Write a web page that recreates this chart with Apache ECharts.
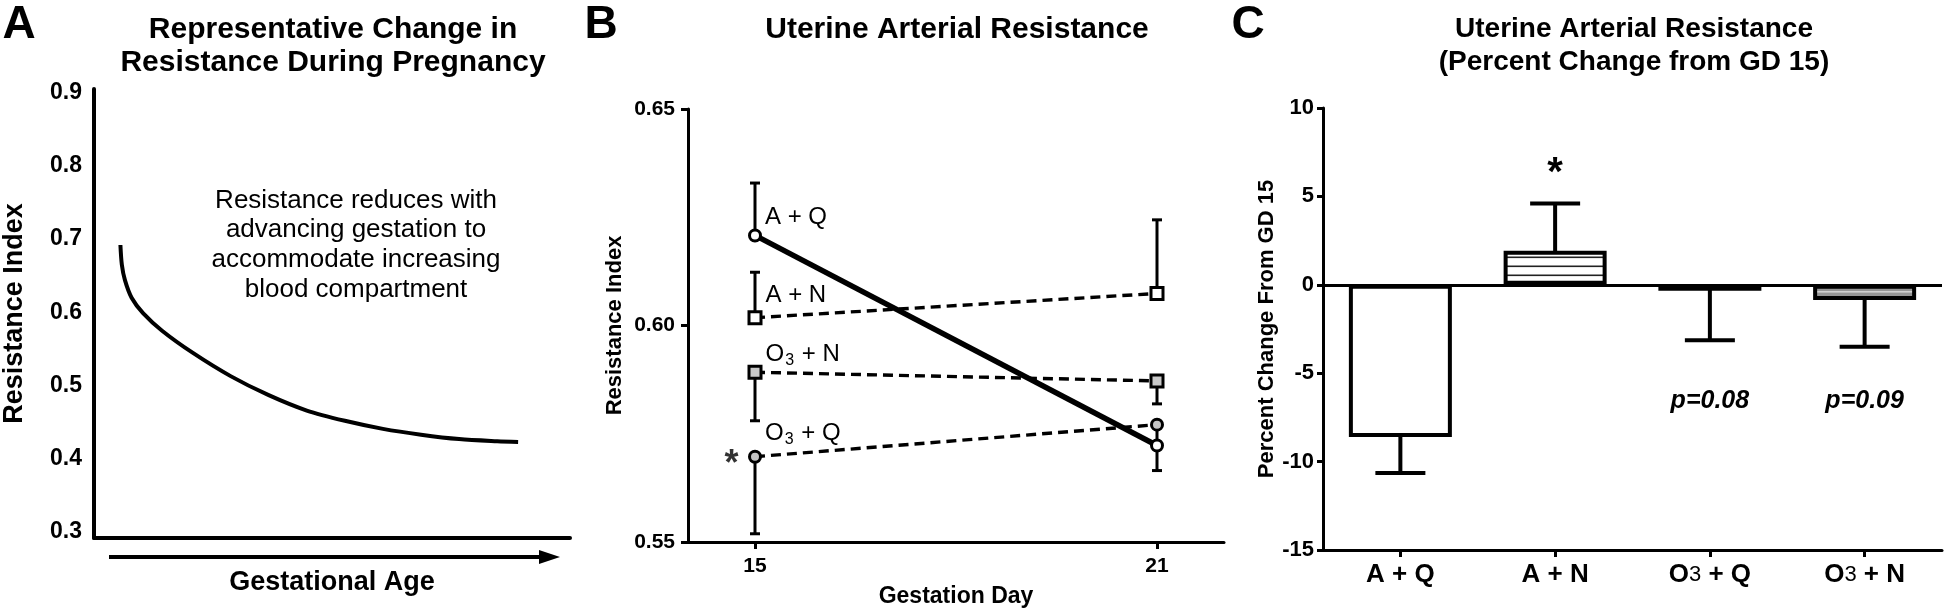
<!DOCTYPE html>
<html><head><meta charset="utf-8">
<script src="https://cdn.jsdelivr.net/npm/echarts@6/dist/echarts.min.js"></script>
<style>html,body{margin:0;padding:0;background:#fff}#c{width:1946px;height:613px}</style>
</head><body><div id="c"></div>
<script>
const FONT = 'Liberation Sans, Arial, Helvetica, sans-serif';

// ---------- Panel A : representative curve ----------
const curveX = [5.55, 5.85, 6.5, 7.9, 10.3, 14.3, 20.7, 28.7, 36.7, 44.7, 52.7, 60.7, 68.7, 76.7, 84.7, 89.1];
const curveY = [0.692, 0.665, 0.644, 0.620, 0.599, 0.575, 0.545, 0.513, 0.487, 0.466, 0.452, 0.441, 0.433, 0.427, 0.424, 0.423];
const yTicksA = [0.3, 0.4, 0.5, 0.6, 0.7, 0.8, 0.9];

// ---------- Panel B : resistance index by gestation day ----------
const daysB = [15, 21];
const groupsB = ['A + Q', 'A + N', 'O3 + N', 'O3 + Q'];
const meanAQ  = [0.6208, 0.5723];
const semAQ   = [0.0121, 0.0058];
const dirAQ   = [1, -1];
const meanAN  = [0.6018, 0.6074];
const semAN   = [0.0105, 0.0170];
const dirAN   = [1, 1];
const meanO3N = [0.5892, 0.5872];
const semO3N  = [0.0112, 0.0053];
const dirO3N  = [-1, -1];
const meanO3Q = [0.5697, 0.5771];
const semO3Q  = [0.0178, 0.0050];
const dirO3Q  = [-1, -1];
const xTicksB = [15, 21];

// ---------- Panel C : percent change from GD 15 ----------
const catsC  = ['A + Q', 'A + N', 'O3 + Q', 'O3 + N'];
const meanC  = [-8.61, 1.93, -0.33, -0.86];
const semC   = [2.04, 2.67, 2.81, 2.64];
const dirC   = [-1, 1, -1, -1];
const starC  = ['', '*', '', ''];
const pTextC = ['', '', 'p=0.08', 'p=0.09'];
const pTextY = -6.6;

function stripes(bg, line, period, y0, h) {
  const c = document.createElement('canvas');
  c.width = 8; c.height = period;
  const g = c.getContext('2d');
  g.fillStyle = bg; g.fillRect(0, 0, 8, period);
  g.fillStyle = line; g.fillRect(0, y0, 8, h);
  return { image: c, repeat: 'repeat' };
}
const fillsC = ['#ffffff', stripes('#ffffff', '#222222', 9, 4.5, 1.6), '#d4d4d4', stripes('#969696', '#d0d0d0', 9, 3, 1.6)];

const chart = echarts.init(document.getElementById('c'), null, { renderer: 'canvas', width: 1946, height: 613 });

const axisTxt = (size) => ({ color: '#000', fontFamily: FONT, fontWeight: 'bold', fontSize: size });

function bLabel(name, dy) {
  const txt = name.startsWith('O3') ? '{n|O}{s|3}{n|' + name.slice(2) + '}' : '{n|' + name + '}';
  return {
    show: true, position: 'right', distance: 3, offset: [0, dy], formatter: txt,
    rich: {
      n: { fontFamily: FONT, fontSize: 24, color: '#000', lineHeight: 28 },
      s: { fontFamily: FONT, fontSize: 16, color: '#000', verticalAlign: 'bottom', lineHeight: 16, padding: [0, 1, 0, 1] }
    }
  };
}

function lineSeriesB(name, means, symbol, size, fill, width, dashed, labelDy) {
  return {
    type: 'line', name: name, xAxisIndex: 1, yAxisIndex: 1, z: 3,
    data: daysB.map((d, i) => i === 0 ? { value: [d, means[i]], label: bLabel(name, labelDy) } : [d, means[i]]),
    symbol: symbol, symbolSize: size, showSymbol: true,
    itemStyle: { color: fill, borderColor: '#000', borderWidth: 3 },
    lineStyle: { color: '#000', width: width, type: dashed ? [10, 6] : 'solid' },
    emphasis: { disabled: true }, animation: false
  };
}

const errDataB = [];
[[meanAQ, semAQ, dirAQ], [meanAN, semAN, dirAN], [meanO3N, semO3N, dirO3N], [meanO3Q, semO3Q, dirO3Q]].forEach(g => {
  daysB.forEach((d, i) => errDataB.push([d, g[0][i], g[1][i], g[2][i]]));
});

const option = {
  animation: false,
  backgroundColor: '#fff',
  textStyle: { fontFamily: FONT },
  grid: [
    { left: 92, top: 89, width: 478, height: 449 },
    { left: 688, top: 109, width: 536, height: 434 },
    { left: 1323, top: 108, width: 619, height: 442 }
  ],
  xAxis: [
    { gridIndex: 0, type: 'value', min: 0, max: 100, axisLine: { show: true, onZero: false, lineStyle: { color: '#000', width: 4 } },
      axisTick: { show: false }, axisLabel: { show: false }, splitLine: { show: false },
      name: 'Gestational Age', nameLocation: 'middle', nameGap: 31, nameTextStyle: axisTxt(27) },
    { gridIndex: 1, type: 'value', min: 14, max: 22,
      axisLine: { show: true, onZero: false, lineStyle: { color: '#000', width: 3 } },
      axisTick: { show: true, length: 7, lineStyle: { color: '#000', width: 3 }, customValues: xTicksB },
      axisLabel: { customValues: xTicksB, margin: 14, ...axisTxt(21) }, splitLine: { show: false },
      name: 'Gestation Day', nameLocation: 'middle', nameGap: 43, nameTextStyle: axisTxt(23) },
    { gridIndex: 2, type: 'category', data: catsC, boundaryGap: true,
      axisLine: { show: true, onZero: false, lineStyle: { color: '#000', width: 3 } },
      axisTick: { show: true, alignWithLabel: true, length: 7, lineStyle: { color: '#000', width: 3 } },
      axisLabel: { margin: 12, formatter: v => v.startsWith('O3') ? '{b|O}{s|3}{b|' + v.slice(2) + '}' : '{b|' + v + '}',
        rich: { b: axisTxt(26), s: { color: '#000', fontFamily: FONT, fontSize: 22, fontWeight: 'normal' } } },
      splitLine: { show: false } }
  ],
  yAxis: [
    { gridIndex: 0, type: 'value', min: 0.292, max: 0.905,
      axisLine: { show: true, lineStyle: { color: '#000', width: 4 } },
      axisTick: { show: false, customValues: yTicksA },
      axisLabel: { customValues: yTicksA, margin: 12, formatter: v => v.toFixed(1), ...axisTxt(23) },
      splitLine: { show: false },
      name: 'Resistance Index', nameLocation: 'middle', nameGap: 66, nameTextStyle: axisTxt(27) },
    { gridIndex: 1, type: 'value', min: 0.55, max: 0.65, interval: 0.05,
      axisLine: { show: true, onZero: false, lineStyle: { color: '#000', width: 3 } },
      axisTick: { show: true, length: 7, lineStyle: { color: '#000', width: 3 } },
      axisLabel: { margin: 13, formatter: v => v.toFixed(2), ...axisTxt(21) }, splitLine: { show: false },
      name: 'Resistance Index', nameLocation: 'middle', nameGap: 62, nameTextStyle: axisTxt(22) },
    { gridIndex: 2, type: 'value', min: -15, max: 10, interval: 5,
      axisLine: { show: true, onZero: false, lineStyle: { color: '#000', width: 3 } },
      axisTick: { show: true, length: 6, lineStyle: { color: '#000', width: 3 } },
      axisLabel: { margin: 9, ...axisTxt(22) }, splitLine: { show: false },
      name: 'Percent Change From GD 15', nameLocation: 'middle', nameGap: 43, nameTextStyle: axisTxt(22) }
  ],
  series: [
    { type: 'line', xAxisIndex: 0, yAxisIndex: 0, data: curveX.map((x, i) => [x, curveY[i]]),
      smooth: 0.3, symbol: 'none', lineStyle: { color: '#000', width: 4 } },
    { type: 'custom', xAxisIndex: 1, yAxisIndex: 1, z: 1, data: errDataB,
      renderItem: (params, api) => {
        const x = api.value(0), m = api.value(1), s = api.value(2), d = api.value(3);
        const p0 = api.coord([x, m]), p1 = api.coord([x, m + d * s]);
        const st = { stroke: '#000', lineWidth: 3 };
        return { type: 'group', children: [
          { type: 'line', shape: { x1: p0[0], y1: p0[1], x2: p1[0], y2: p1[1] }, style: st },
          { type: 'line', shape: { x1: p1[0] - 5, y1: p1[1], x2: p1[0] + 5, y2: p1[1] }, style: st }
        ] };
      } },
    lineSeriesB('A + N', meanAN, 'rect', 12, '#ffffff', 3.4, true, -22),
    lineSeriesB('O3 + N', meanO3N, 'rect', 12, '#c8c8c8', 3.4, true, -18),
    lineSeriesB('O3 + Q', meanO3Q, 'circle', 11, '#c4c4c4', 3.4, true, -23),
    lineSeriesB('A + Q', meanAQ, 'circle', 11, '#ffffff', 5.5, false, -18),
    { type: 'scatter', xAxisIndex: 1, yAxisIndex: 1, z: 4, data: [[daysB[0], meanO3Q[0]]],
      symbolSize: 1, itemStyle: { color: 'rgba(0,0,0,0)' },
      label: { show: true, formatter: '*', position: 'left', distance: 16, offset: [0, 8], color: '#000', fontFamily: FONT, fontWeight: 'bold', fontSize: 36 } },
    { type: 'bar', xAxisIndex: 2, yAxisIndex: 2, barWidth: 103, z: 2,
      data: meanC.map((v, i) => ({ value: v, itemStyle: { color: fillsC[i], borderColor: '#000', borderWidth: 4 } })),
      markLine: { silent: true, symbol: ['none', 'none'], label: { show: false }, animation: false,
        lineStyle: { color: '#000', width: 3, type: 'solid' }, data: [{ yAxis: 0 }] } },
    { type: 'custom', xAxisIndex: 2, yAxisIndex: 2, z: 3,
      data: meanC.map((v, i) => [i, v, semC[i], dirC[i]]),
      renderItem: (params, api) => {
        const i = api.value(0), m = api.value(1), s = api.value(2), d = api.value(3);
        const p0 = api.coord([i, m]), p1 = api.coord([i, m + d * s]);
        const st = { stroke: '#000', lineWidth: 4 };
        const kids = [
          { type: 'line', shape: { x1: p0[0], y1: p0[1] + d * 2, x2: p1[0], y2: p1[1] }, style: st },
          { type: 'line', shape: { x1: p1[0] - 25, y1: p1[1], x2: p1[0] + 25, y2: p1[1] }, style: st }
        ];
        if (starC[i]) kids.push({ type: 'text', style: { text: starC[i], x: p1[0], y: p1[1] - 30, align: 'center', verticalAlign: 'middle',
          fill: '#000', fontFamily: FONT, fontWeight: 'bold', fontSize: 40 } });
        if (pTextC[i]) { const pp = api.coord([i, pTextY]);
          kids.push({ type: 'text', style: { text: pTextC[i], x: pp[0], y: pp[1], align: 'center', verticalAlign: 'middle',
            fill: '#000', fontFamily: FONT, fontWeight: 'bold', fontStyle: 'italic', fontSize: 25 } }); }
        return { type: 'group', children: kids };
      } }
  ],
  graphic: [
    { type: 'text', style: { text: 'A', x: 19, y: 25, align: 'center', verticalAlign: 'middle', fill: '#000', fontFamily: FONT, fontWeight: 'bold', fontSize: 46 } },
    { type: 'text', style: { text: 'B', x: 601, y: 25, align: 'center', verticalAlign: 'middle', fill: '#000', fontFamily: FONT, fontWeight: 'bold', fontSize: 46 } },
    { type: 'text', style: { text: 'C', x: 1248, y: 25, align: 'center', verticalAlign: 'middle', fill: '#000', fontFamily: FONT, fontWeight: 'bold', fontSize: 46 } },
    { type: 'text', style: { text: 'Representative Change in\nResistance During Pregnancy', x: 333, y: 46, align: 'center', verticalAlign: 'middle', lineHeight: 33, fill: '#000', fontFamily: FONT, fontWeight: 'bold', fontSize: 30 } },
    { type: 'text', style: { text: 'Uterine Arterial Resistance', x: 957, y: 30, align: 'center', verticalAlign: 'middle', fill: '#000', fontFamily: FONT, fontWeight: 'bold', fontSize: 30 } },
    { type: 'text', style: { text: 'Uterine Arterial Resistance\n(Percent Change from GD 15)', x: 1634, y: 46, align: 'center', verticalAlign: 'middle', lineHeight: 33, fill: '#000', fontFamily: FONT, fontWeight: 'bold', fontSize: 28 } },
    { type: 'text', style: { text: 'Resistance reduces with\nadvancing gestation to\naccommodate increasing\nblood compartment', x: 356, y: 245, align: 'center', verticalAlign: 'middle', lineHeight: 29.6, fill: '#000', fontFamily: FONT, fontSize: 26 } },
    { type: 'line', shape: { x1: 109, y1: 557, x2: 545, y2: 557 }, style: { stroke: '#000', lineWidth: 4 } },
    { type: 'polygon', shape: { points: [[539, 550], [560, 557], [539, 564]] }, style: { fill: '#000' } }
  ]
};
chart.setOption(option);
</script></body></html>
